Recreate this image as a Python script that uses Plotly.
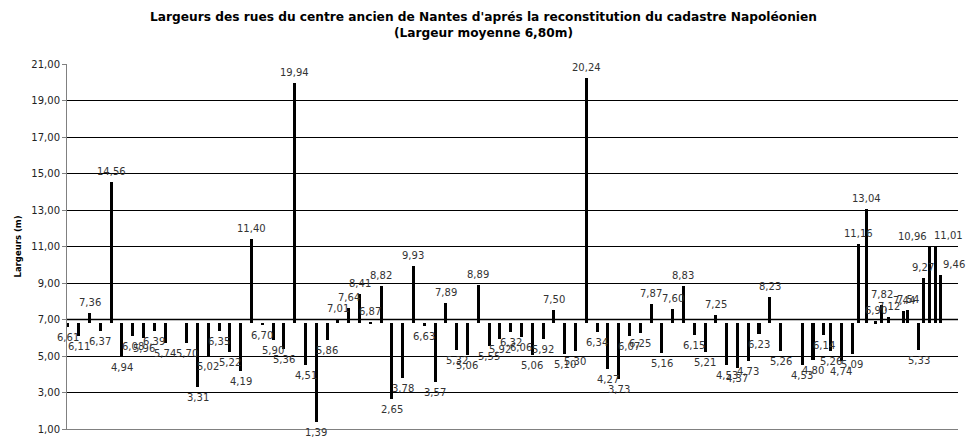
import plotly.graph_objects as go

# Position of each street along the chart's horizontal axis (no visible scale)
street_x = [1, 2, 3, 4, 5, 6, 7, 8, 9, 10,
            12, 13, 14, 15, 16, 17, 18, 19, 20, 21,
            22, 23, 24, 25, 26, 27, 28, 29, 30, 31,
            32, 33, 34, 35, 36, 37, 38, 39, 40, 41,
            42, 43, 44, 45, 46, 47, 48, 49, 50, 51,
            52, 53, 54, 55, 56, 57, 58, 59, 60, 61,
            62, 63, 64, 65, 66, 67,
            69, 70, 71,
            71.63, 72.6, 73.62, 74.22, 75.0, 75.8, 76.37, 77.02,
            78.39, 78.78, 79.78, 80.2, 80.8, 81.37, 81.77]

# Street widths (m)
widths = [6.61, 6.11, 7.36, 6.37, 14.56, 4.94, 6.08, 5.96, 6.39, 5.74,
          5.70, 3.31, 5.02, 6.35, 5.22, 4.19, 11.40, 6.70, 5.90, 5.36,
          19.94, 4.51, 1.39, 5.86, 7.01, 7.64, 8.41, 6.87, 8.82, 2.65,
          3.78, 9.93, 6.63, 3.57, 7.89, 5.32, 5.06, 8.89, 5.55, 5.92,
          6.32, 6.06, 5.06, 5.92, 7.50, 5.10, 5.30, 20.24, 6.34, 4.27,
          3.73, 6.07, 6.25, 7.87, 5.16, 7.60, 8.83, 6.15, 5.21, 7.25,
          4.53, 4.37, 4.73, 6.23, 8.23, 5.26,
          4.53, 4.80, 6.14,
          5.26, 4.74, 5.09, 11.16, 13.04, 6.90, 7.82, 7.12,
          7.44, 7.54, 5.33, 9.27, 10.96, 11.01, 9.46]

mean_width = 6.80
y_ticks = [1, 3, 5, 7, 9, 11, 13, 15, 17, 19, 21]

title_text = ("<b>Largeurs des rues du centre ancien de Nantes d'aprés la reconstitution du cadastre Napoléonien</b>"
              "<br><b>(Largeur moyenne 6,80m)</b>")
y_title = "<b>Largeurs (m)</b>"

# horizontal label nudges (pixels) for the crowded labels at the right end
label_nudge = {80.8: -17, 81.37: 13, 81.77: 14}

fmt = lambda v: f"{v:.2f}".replace(".", ",")
FONT = "DejaVu Sans, Verdana, sans-serif"

fig = go.Figure()
fig.add_trace(go.Bar(
    x=street_x,
    y=[w - mean_width for w in widths],
    base=mean_width,
    width=0.28,
    marker=dict(color="black", line=dict(width=0)),
    hoverinfo="skip",
    showlegend=False,
))

annotations = []
for x, w in zip(street_x, widths):
    up = w >= mean_width
    annotations.append(dict(
        x=x, y=w, xref="x", yref="y", text=fmt(w), showarrow=False,
        xanchor="center", yanchor="bottom" if up else "top",
        yshift=3 if up else -3, xshift=label_nudge.get(x, 0),
        font=dict(family=FONT, size=10, color="#333333"),
    ))

fig.add_shape(type="line", xref="paper", x0=0, x1=1, yref="y", y0=7, y1=7,
              line=dict(color="#808080", width=2), layer="below")

fig.update_layout(
    width=967, height=439,
    margin=dict(l=67, r=9, t=64, b=10),
    paper_bgcolor="white", plot_bgcolor="white",
    separators=", ",
    font=dict(family=FONT, color="black"),
    annotations=annotations,
    title=dict(text=title_text, x=0.5, xref="container", xanchor="center",
               y=1 - 21 / 439, yref="container", yanchor="middle",
               font=dict(family=FONT, size=12.2, color="black")),
    bargap=0,
    hovermode=False,
    xaxis=dict(range=[0.91, 83.43], showgrid=False, zeroline=False,
               showticklabels=False, ticks="", showline=True,
               linecolor="#808080", linewidth=1, automargin=False),
    yaxis=dict(range=[1, 21], tickvals=y_ticks, tickformat=".2f",
               showgrid=True, gridcolor="black", gridwidth=1,
               zeroline=False, showline=True, linecolor="#808080", linewidth=1,
               ticks="outside", ticklen=4, tickcolor="#808080",
               tickfont=dict(family=FONT, size=10, color="#222222"),
               automargin=False,
               title=dict(text=y_title, font=dict(family=FONT, size=8.5), standoff=8)),
)

fig.write_html("out.html", config={"displayModeBar": False},
               post_script="document.body.style.margin='0px';")
